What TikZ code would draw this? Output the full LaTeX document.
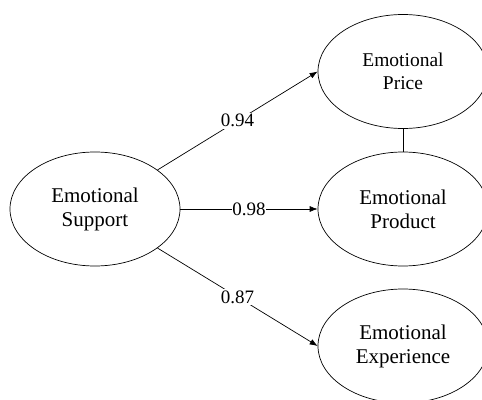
\documentclass[tikz,border=0pt]{standalone}
\usepackage{fontspec}
\setmainfont{Liberation Serif}
\usetikzlibrary{shapes.geometric,arrows.meta}
\begin{document}
\begin{tikzpicture}[x=1pt,y=-1pt,
  latent/.style={ellipse,draw,line width=0.7pt,minimum width=170pt,minimum height=114pt,inner sep=0pt,align=center,font=\fontsize{21}{24}\selectfont},
  path/.style={line width=0.7pt,-{Latex[length=8pt,width=6pt]}},
  coef/.style={fill=white,inner sep=1.5pt,font=\fontsize{19}{22}\selectfont}]
\useasboundingbox (0,0) rectangle (482,399);
\clip (0,0) rectangle (482,399);
\node[latent] (sup) at (95,209) {Emotional\\Support};
\node[latent,font=\fontsize{19.5}{23}\selectfont] (price) at (403,71.5) {Emotional\\Price};
\node[latent] (prod) at (403,209) {Emotional\\Product};
\node[latent] (exp) at (403,346) {Emotional\\Experience};
\draw[path] (sup.32) -- node[coef] {0.94} (price.west);
\draw[path] (sup.east) -- node[coef,inner sep=0.5pt] {0.98} (prod.west);
\draw[path] (sup.-32) -- node[coef] {0.87} (exp.west);
\draw[line width=0.7pt] (price.south) -- (prod.north);
\end{tikzpicture}
\end{document}
